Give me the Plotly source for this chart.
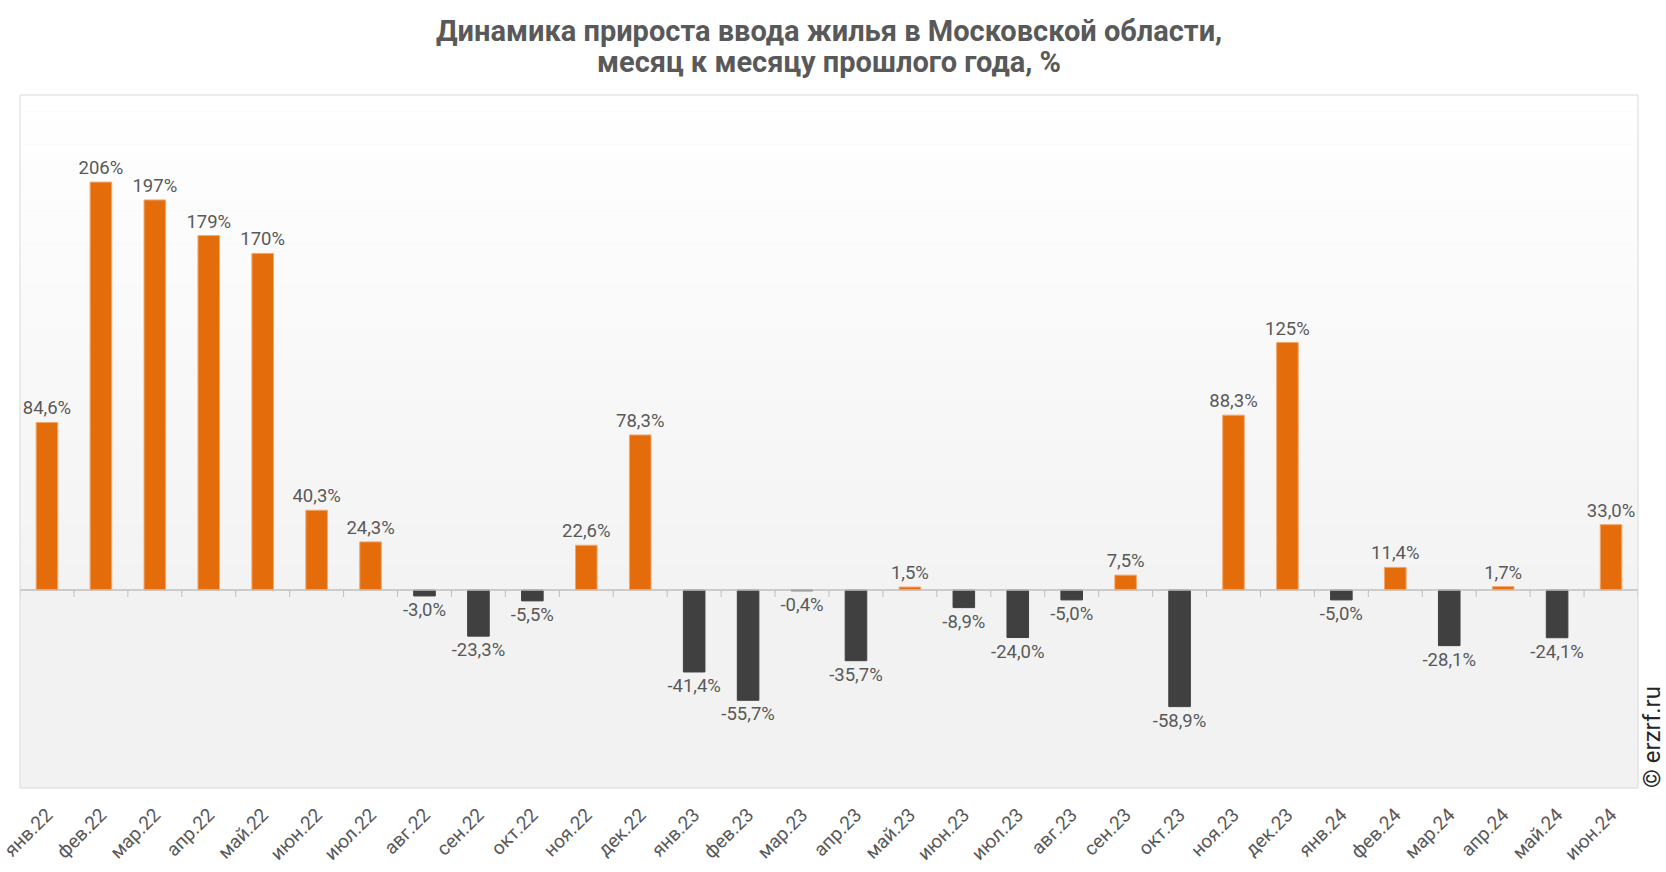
import plotly.graph_objects as go

months = ["янв.22", "фев.22", "мар.22", "апр.22", "май.22", "июн.22", "июл.22", "авг.22",
          "сен.22", "окт.22", "ноя.22", "дек.22", "янв.23", "фев.23", "мар.23", "апр.23",
          "май.23", "июн.23", "июл.23", "авг.23", "сен.23", "окт.23", "ноя.23", "дек.23",
          "янв.24", "фев.24", "мар.24", "апр.24", "май.24", "июн.24"]
growth = [84.6, 206, 197, 179, 170, 40.3, 24.3, -3.0, -23.3, -5.5, 22.6, 78.3, -41.4, -55.7,
          -0.4, -35.7, 1.5, -8.9, -24.0, -5.0, 7.5, -58.9, 88.3, 125, -5.0, 11.4, -28.1, 1.7,
          -24.1, 33.0]
title_lines = ["Динамика прироста ввода жилья в Московской области,",
               "месяц к месяцу прошлого года, %"]

Y_MIN, Y_MAX = -100, 250
ORANGE = "#E46C0A"
DARK = "#404040"
TXT = "#595959"


def fmt(v):
    if abs(v) >= 100:
        return f"{v:.0f}%"
    return f"{v:.1f}%".replace(".", ",")


colors = [ORANGE if v >= 0 else DARK for v in growth]
edge = ["#F2A66A" if v >= 0 else DARK for v in growth]
labels = [fmt(v) for v in growth]

fig = go.Figure()
fig.add_trace(go.Bar(
    x=months, y=growth,
    marker=dict(color=colors, line=dict(color=edge, width=1)),
    text=labels, textposition="outside", cliponaxis=False, constraintext="none",
    textfont=dict(family="Roboto", size=18.5, color=TXT),
    width=0.4, hoverinfo="x+y",
))

shapes = []
# gradient background above zero
zero_frac = (0 - Y_MIN) / (Y_MAX - Y_MIN)
n = 60
for i in range(n):
    f0 = zero_frac + (1 - zero_frac) * i / n
    f1 = zero_frac + (1 - zero_frac) * (i + 1) / n
    t = i / (n - 1)
    c = int(round(243 + (255 - 243) * t))
    shapes.append(dict(type="rect", xref="paper", yref="paper", x0=0, x1=1, y0=f0, y1=f1,
                       fillcolor=f"rgb({c},{c},{c})", line=dict(width=0), layer="below"))
# zero axis line
shapes.append(dict(type="line", xref="paper", yref="y", x0=0, x1=1, y0=0, y1=0,
                   line=dict(color="#BFBFBF", width=1.5), layer="above"))
# ticks at category boundaries
for i in range(len(months) + 1):
    shapes.append(dict(type="line", xref="x", yref="y", ysizemode="pixel", yanchor=0,
                       x0=i - 0.5, x1=i - 0.5, y0=0, y1=-7,
                       line=dict(color="#BFBFBF", width=1), layer="above"))
# plot border
shapes.append(dict(type="rect", xref="paper", yref="paper", x0=0, x1=1, y0=0, y1=1,
                   line=dict(color="#D9D9D9", width=1), layer="above"))

annotations = []
for k, (line, shift) in enumerate(zip(title_lines, [64.5, 33.5])):
    annotations.append(dict(
        text=f"<b>{line}</b>", xref="paper", yref="paper", x=0.5, y=1,
        xanchor="center", yanchor="middle", yshift=shift, showarrow=False,
        font=dict(family="Roboto", size=29, color=TXT),
    ))
annotations.append(dict(
    text="© erzrf.ru", textangle=-90, xref="paper", yref="paper",
    x=1, y=0, xanchor="center", yanchor="bottom", xshift=14, yshift=-2,
    showarrow=False,
    font=dict(family="Roboto", size=24, color="#262626"),
))

fig.update_layout(
    width=1666, height=872,
    margin=dict(l=20, r=28, t=95, b=84, autoexpand=False),
    paper_bgcolor="white",
    plot_bgcolor="#F2F2F2",
    shapes=shapes,
    showlegend=False,
    xaxis=dict(
        type="category", categoryorder="array", categoryarray=months,
        range=[-0.5, len(months) - 0.5], automargin=False,
        tickangle=-45, showgrid=False, zeroline=False, showline=False, ticks="",
        tickfont=dict(family="Roboto", size=19, color=TXT),
        ticklabelstandoff=11,
    ),
    yaxis=dict(range=[Y_MIN, Y_MAX], showgrid=False, zeroline=False, automargin=False,
               showticklabels=False, ticks="", showline=False),
    annotations=annotations,
)

fig.write_html("out.html", config={"displayModeBar": False},
               post_script="document.body.style.margin='0px';")
